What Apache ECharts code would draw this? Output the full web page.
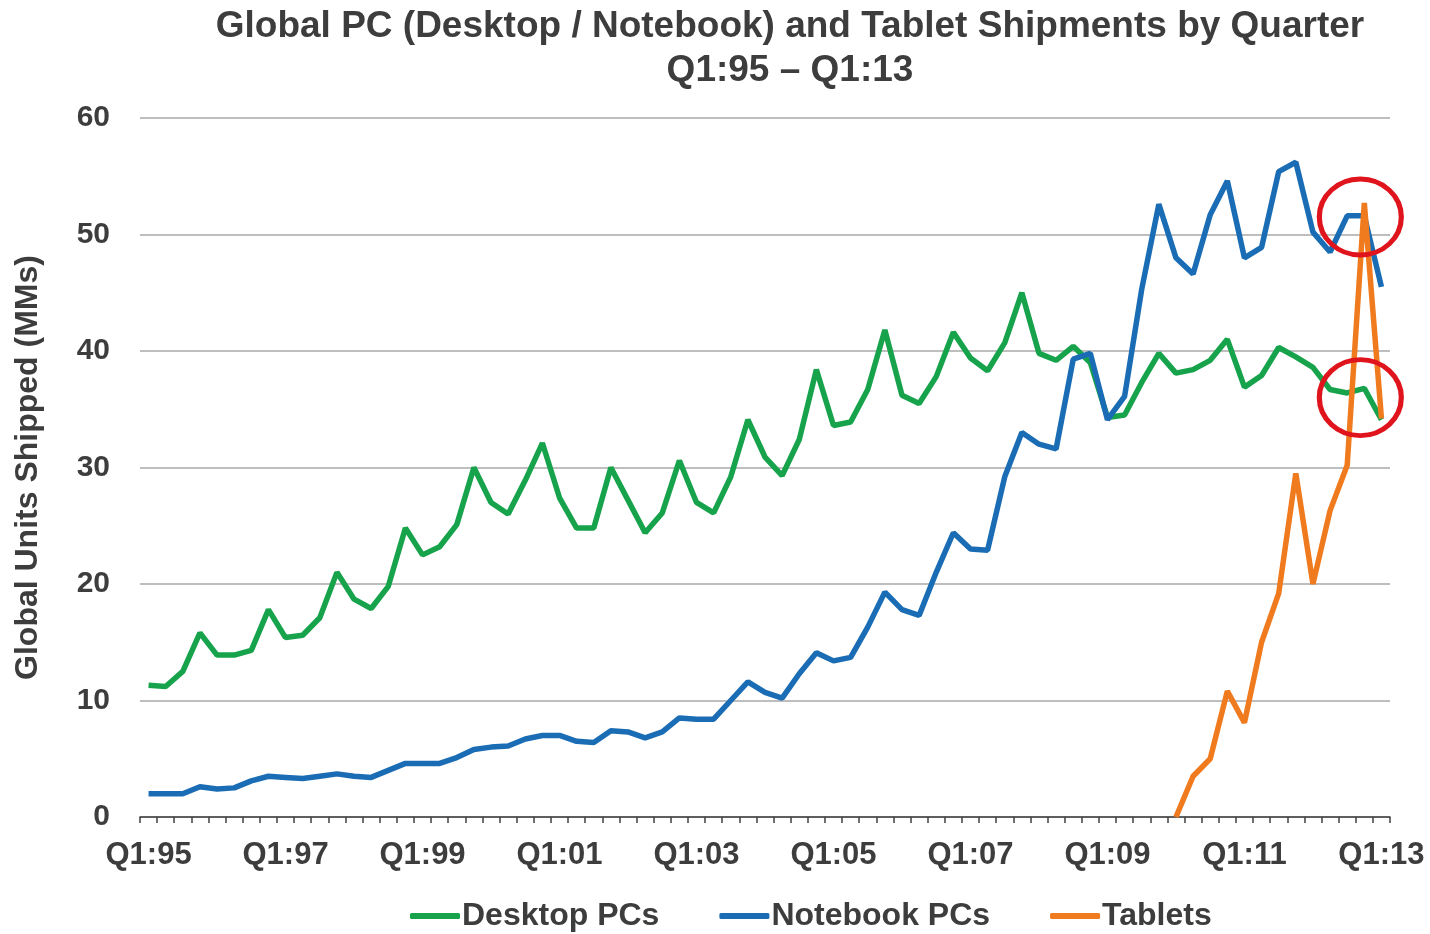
<!DOCTYPE html>
<html>
<head>
<meta charset="utf-8">
<script src="https://cdn.jsdelivr.net/npm/echarts@6/dist/echarts.min.js"></script>
<style>
  html, body { margin: 0; padding: 0; background: #ffffff; }
  #chart { width: 1430px; height: 934px; }
</style>
</head>
<body>
<div id="chart"></div>
<script>
// ---- data ----
var years = ['95','96','97','98','99','00','01','02','03','04','05','06','07','08','09','10','11','12','13'];
var quarters = ['Q1','Q2','Q3','Q4'];

var desktopPCs = [
  11.3, 11.2, 12.5, 15.8, 13.9, 13.9, 14.3, 17.8, 15.4, 15.6,
  17.1, 21.0, 18.7, 17.9, 19.8, 24.8, 22.5, 23.2, 25.1, 30.0,
  27.0, 26.0, 28.9, 32.1, 27.4, 24.8, 24.8, 30.0, 27.2, 24.4,
  26.1, 30.6, 27.0, 26.1, 29.2, 34.1, 30.9, 29.3, 32.4, 38.4,
  33.6, 33.9, 36.7, 41.8, 36.2, 35.5, 37.8, 41.6, 39.4, 38.3,
  40.7, 45.0, 39.8, 39.2, 40.4, 39.0, 34.3, 34.5, 37.3, 39.8,
  38.1, 38.4, 39.2, 41.0, 36.9, 37.9, 40.3, 39.5, 38.6, 36.7,
  36.4, 36.8, 34.1
];

var notebookPCs = [
  2.0, 2.0, 2.0, 2.6, 2.4, 2.5, 3.1, 3.5, 3.4, 3.3,
  3.5, 3.7, 3.5, 3.4, 4.0, 4.6, 4.6, 4.6, 5.1, 5.8,
  6.0, 6.1, 6.7, 7.0, 7.0, 6.5, 6.4, 7.4, 7.3, 6.8,
  7.3, 8.5, 8.4, 8.4, 10.0, 11.6, 10.7, 10.2, 12.3, 14.1,
  13.4, 13.7, 16.3, 19.3, 17.8, 17.3, 21.0, 24.4, 23.0, 22.9,
  29.2, 33.0, 32.0, 31.6, 39.3, 39.8, 34.1, 36.1, 45.3, 52.6,
  48.0, 46.6, 51.7, 54.6, 48.0, 48.9, 55.4, 56.2, 50.2, 48.5,
  51.6, 51.6, 45.5
];

var tablets = [
  null, null, null, null, null, null, null, null, null, null,
  null, null, null, null, null, null, null, null, null, null,
  null, null, null, null, null, null, null, null, null, null,
  null, null, null, null, null, null, null, null, null, null,
  null, null, null, null, null, null, null, null, null, null,
  null, null, null, null, null, null, null, null, null, null,
  0, 3.5, 5.0, 10.8, 8.1, 15.0, 19.2, 29.5, 20.0, 26.3,
  30.2, 52.7, 34.2
];

var yTicks = [0, 10, 20, 30, 40, 50, 60];
var seriesNames = ['Desktop PCs', 'Notebook PCs', 'Tablets'];
// highlighted points (category, value) circled in red
var circledNotebook = ['Q4:12', 51.5];
var circledDesktop = ['Q4:12', 36.0];

// ---- build ----
var categories = [];
years.forEach(function (y, i) {
  quarters.forEach(function (q) {
    if (i === years.length - 1 && q !== 'Q1') return;
    categories.push(q + ':' + y);
  });
});

var textColor = '#3d3d3d';
var fontFam = '"Liberation Sans", Arial, sans-serif';

function circleMark(pt) {
  return {
    symbol: 'circle',
    symbolSize: [82, 76],
    symbolOffset: [-4, 0],
    silent: true,
    z: 10,
    label: { show: false },
    itemStyle: { color: 'rgba(0,0,0,0)', borderColor: '#e0141c', borderWidth: 5 },
    data: [{ coord: pt }]
  };
}

var chart = echarts.init(document.getElementById('chart'), null, { renderer: 'canvas' });
chart.setOption({
  backgroundColor: '#ffffff',
  animation: false,
  textStyle: { fontFamily: fontFam },
  title: {
    text: 'Global PC (Desktop / Notebook) and Tablet Shipments by Quarter',
    subtext: 'Q1:95 – Q1:13',
    left: 790,
    top: 8,
    textAlign: 'center',
    padding: 0,
    itemGap: 7,
    textStyle: { fontSize: 37, fontWeight: 'bold', color: textColor, fontFamily: fontFam },
    subtextStyle: { fontSize: 37, fontWeight: 'bold', color: textColor, fontFamily: fontFam }
  },
  legend: {
    data: seriesNames,
    left: 410,
    top: 900,
    icon: 'roundRect',
    itemWidth: 50,
    itemHeight: 6,
    itemGap: 60,
    padding: 0,
    textStyle: { fontSize: 32, fontWeight: 'bold', color: textColor, fontFamily: fontFam, padding: [0, 0, 0, -3] }
  },
  grid: { left: 140, right: 40, top: 118, bottom: 117, containLabel: false },
  xAxis: {
    type: 'category',
    data: categories,
    boundaryGap: true,
    axisLine: { show: true, lineStyle: { color: '#404040', width: 1.5 } },
    axisTick: { show: true, interval: 0, length: 6, inside: false, lineStyle: { color: '#404040', width: 1.5 } },
    axisLabel: { interval: 7, fontSize: 31, fontWeight: 'bold', color: textColor, margin: 23, fontFamily: fontFam },
    splitLine: { show: false }
  },
  yAxis: {
    type: 'value',
    min: yTicks[0],
    max: yTicks[yTicks.length - 1],
    interval: 10,
    name: 'Global Units Shipped (MMs)',
    nameLocation: 'middle',
    nameGap: 96,
    nameRotate: 90,
    nameTextStyle: { fontSize: 32, fontWeight: 'bold', color: textColor, fontFamily: fontFam },
    axisLine: { show: false },
    axisTick: { show: false },
    axisLabel: { fontSize: 30, fontWeight: 'bold', color: textColor, margin: 30, fontFamily: fontFam },
    splitLine: { show: true, lineStyle: { color: '#a8a8a8', width: 1.5 } }
  },
  series: [
    {
      name: seriesNames[0], type: 'line', data: desktopPCs,
      showSymbol: false, symbol: 'none',
      lineStyle: { color: '#17a34c', width: 5.5 }, itemStyle: { color: '#17a34c' },
      markPoint: circleMark(circledDesktop)
    },
    {
      name: seriesNames[1], type: 'line', data: notebookPCs,
      showSymbol: false, symbol: 'none',
      lineStyle: { color: '#1a6db4', width: 5.5 }, itemStyle: { color: '#1a6db4' },
      markPoint: circleMark(circledNotebook)
    },
    {
      name: seriesNames[2], type: 'line', data: tablets,
      showSymbol: false, symbol: 'none', connectNulls: false,
      lineStyle: { color: '#f07a1e', width: 5.5 }, itemStyle: { color: '#f07a1e' },
      z: 3
    }
  ]
});
</script>
</body>
</html>
